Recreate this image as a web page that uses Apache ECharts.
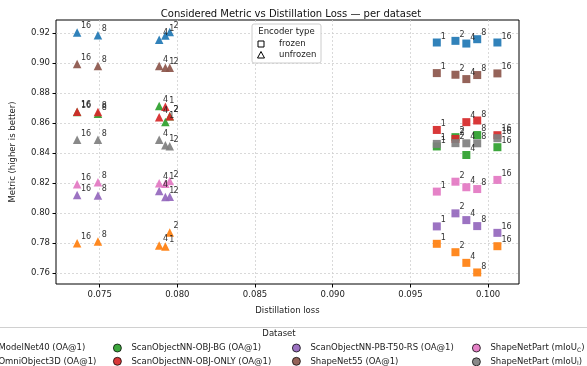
<!DOCTYPE html>
<html>
<head>
<meta charset="utf-8">
<script src="https://cdn.jsdelivr.net/npm/echarts@6/dist/echarts.min.js"></script>
<style>html,body{margin:0;padding:0;background:#fff}#c{width:587px;height:366px}</style>
</head>
<body>
<div id="c"></div>
<script>
// ---- data ----
const sizes = [1, 2, 4, 8, 16];
const lossFrozen = [0.0967, 0.0979, 0.0986, 0.0993, 0.1006];
const lossUnfrozen = [0.07923, 0.07951, 0.07883, 0.07489, 0.07355];
const datasetNames = ['ModelNet40 (OA@1)', 'OmniObject3D (OA@1)', 'ScanObjectNN-OBJ-BG (OA@1)', 'ScanObjectNN-OBJ-ONLY (OA@1)',
  'ScanObjectNN-PB-T50-RS (OA@1)', 'ShapeNet55 (OA@1)', 'ShapeNetPart (mIoU_C)', 'ShapeNetPart (mIoU_I)'];
const colors = ['#1f77b4', '#ff7f0e', '#2ca02c', '#d62728', '#9467bd', '#8c564b', '#e377c2', '#7f7f7f'];
const frozenModelNet40 = [0.9138, 0.9149, 0.9131, 0.9160, 0.9138];
const unfrozenModelNet40 = [0.9184, 0.9208, 0.9157, 0.9186, 0.9204];
const frozenOmni = [0.7796, 0.7740, 0.7669, 0.7605, 0.7780];
const unfrozenOmni = [0.7778, 0.7871, 0.7784, 0.7811, 0.7800];
const frozenObjBg = [0.8445, 0.8507, 0.8388, 0.8521, 0.8440];
const unfrozenObjBg = [0.8608, 0.8646, 0.8715, 0.8663, 0.8675];
const frozenObjOnly = [0.8555, 0.8495, 0.8607, 0.8618, 0.8520];
const unfrozenObjOnly = [0.8710, 0.8646, 0.8639, 0.8675, 0.8677];
const frozenPb = [0.7912, 0.7999, 0.7954, 0.7914, 0.7869];
const unfrozenPb = [0.8108, 0.8110, 0.8148, 0.8118, 0.8121];
const frozenSN55 = [0.8934, 0.8923, 0.8894, 0.8921, 0.8932];
const unfrozenSN55 = [0.8970, 0.8970, 0.8981, 0.8981, 0.8995];
const frozenPartC = [0.8144, 0.8210, 0.8173, 0.8161, 0.8222];
const unfrozenPartC = [0.8197, 0.8215, 0.8199, 0.8207, 0.8193];
const frozenPartI = [0.8462, 0.8467, 0.8466, 0.8466, 0.8500];
const unfrozenPartI = [0.8453, 0.8447, 0.8489, 0.8489, 0.8489];
const xTicks = [0.075, 0.080, 0.085, 0.090, 0.095, 0.100];
const yTicks = [0.76, 0.78, 0.80, 0.82, 0.84, 0.86, 0.88, 0.90, 0.92];

const frozenAll = [frozenModelNet40, frozenOmni, frozenObjBg, frozenObjOnly, frozenPb, frozenSN55, frozenPartC, frozenPartI];
const unfrozenAll = [unfrozenModelNet40, unfrozenOmni, unfrozenObjBg, unfrozenObjOnly, unfrozenPb, unfrozenSN55, unfrozenPartC, unfrozenPartI];

const labelCfg = {
  show: true, position: [8, -2], align: 'left', verticalAlign: 'middle',
  fontSize: 8, color: '#222', fontFamily: 'DejaVu Sans',
  formatter: p => String(p.value[2])
};

const series = [];
datasetNames.forEach((name, i) => {
  series.push({
    type: 'scatter', name: name, symbol: 'rect', symbolSize: 8,
    itemStyle: { color: colors[i], opacity: 0.92 },
    label: labelCfg,
    data: sizes.map((s, k) => [lossFrozen[k], frozenAll[i][k], s])
  });
  series.push({
    type: 'scatter', name: name, symbol: 'triangle', symbolSize: 8.5,
    itemStyle: { color: colors[i], opacity: 0.92 },
    label: labelCfg,
    data: sizes.map((s, k) => [lossUnfrozen[k], unfrozenAll[i][k], s])
  });
});

const legendFmt = n => n.replace('_C)', '{sub|C})').replace('_I)', '{sub|I})');
const legendCommon = {
  orient: 'vertical', top: 343.5, height: 40, padding: 0, itemWidth: 18, itemHeight: 8, itemGap: 4.3,
  icon: 'circle', itemStyle: { borderColor: '#000', borderWidth: 0.8 },
  formatter: legendFmt,
  textStyle: { fontSize: 8.5, color: '#222', fontFamily: 'DejaVu Sans',
    rich: { sub: { fontSize: 6, color: '#222', fontFamily: 'DejaVu Sans', padding: [4, 0, 0, 0] } } },
  selectedMode: false
};
const legends = [
  Object.assign({}, legendCommon, { left: -20, data: [datasetNames[0], datasetNames[1]] }),
  Object.assign({}, legendCommon, { left: 113, data: [datasetNames[2], datasetNames[3]] }),
  Object.assign({}, legendCommon, { left: 292, data: [datasetNames[4], datasetNames[5]] }),
  Object.assign({}, legendCommon, { left: 472, data: [datasetNames[6], datasetNames[7]] })
];

const chart = echarts.init(document.getElementById('c'), null, { renderer: 'canvas' });
chart.setOption({
  animation: false,
  backgroundColor: '#fff',
  textStyle: { fontFamily: 'DejaVu Sans' },
  title: {
    text: 'Considered Metric vs Distillation Loss \u2014 per dataset',
    left: 286, top: 4, textAlign: 'center',
    textStyle: { fontSize: 10, fontWeight: 'normal', color: '#111', fontFamily: 'DejaVu Sans' }
  },
  grid: { left: 54, right: 68, top: 20, bottom: 82, show: true, borderColor: '#000', borderWidth: 1, containLabel: false },
  xAxis: {
    type: 'value', min: 0.07219, max: 0.10199, splitNumber: 6,
    name: 'Distillation loss', nameLocation: 'middle', nameGap: 22,
    nameTextStyle: { fontSize: 8.5, color: '#222' },
    axisLine: { show: false },
    axisTick: { show: true, inside: false, length: 3.5, lineStyle: { color: '#000' }, customValues: xTicks },
    axisLabel: { fontSize: 8.5, color: '#222', margin: 6, customValues: xTicks, formatter: v => v.toFixed(3) },
    splitLine: { show: true, lineStyle: { color: '#d0d0d0', type: [2, 2], width: 0.8 } }
  },
  yAxis: {
    type: 'value', min: 0.7528, max: 0.9288, splitNumber: 9,
    name: 'Metric (higher is better)', nameLocation: 'middle', nameGap: 39,
    nameTextStyle: { fontSize: 8.5, color: '#222' },
    axisLine: { show: false },
    axisTick: { show: true, inside: false, length: 3.5, lineStyle: { color: '#000' }, customValues: yTicks },
    axisLabel: { fontSize: 8.5, color: '#222', margin: 6, customValues: yTicks, formatter: v => v.toFixed(2) },
    splitLine: { show: true, lineStyle: { color: '#d0d0d0', type: [2, 2], width: 0.8 } }
  },
  legend: legends,
  graphic: [
    { type: 'rect', shape: { x: 252, y: 24, width: 69, height: 39, r: 2 }, style: { fill: 'rgba(255,255,255,0.85)', stroke: '#cccccc', lineWidth: 1 }, z: 100 },
    { type: 'text', x: 286.5, y: 32, style: { text: 'Encoder type', fontSize: 8.5, fill: '#222', fontFamily: 'DejaVu Sans', align: 'center', verticalAlign: 'middle' }, z: 101 },
    { type: 'rect', shape: { x: 258, y: 41, width: 6, height: 6 }, style: { fill: 'none', stroke: '#000', lineWidth: 1 }, z: 101 },
    { type: 'text', x: 279, y: 44, style: { text: 'frozen', fontSize: 8.5, fill: '#222', fontFamily: 'DejaVu Sans', verticalAlign: 'middle' }, z: 101 },
    { type: 'polygon', shape: { points: [[261, 51.5], [257.5, 58], [264.5, 58]] }, style: { fill: 'none', stroke: '#000', lineWidth: 1 }, z: 101 },
    { type: 'text', x: 279, y: 55, style: { text: 'unfrozen', fontSize: 8.5, fill: '#222', fontFamily: 'DejaVu Sans', verticalAlign: 'middle' }, z: 101 },
    { type: 'rect', shape: { x: -10, y: 327.5, width: 607, height: 60, r: 3 }, style: { fill: '#fff', stroke: '#d0d0d0', lineWidth: 1 }, z: -1 },
    { type: 'text', x: 279, y: 334, style: { text: 'Dataset', fontSize: 8.5, fill: '#222', fontFamily: 'DejaVu Sans', align: 'center', verticalAlign: 'middle' }, z: 101 }
  ],
  series: series
});
</script>
</body>
</html>
